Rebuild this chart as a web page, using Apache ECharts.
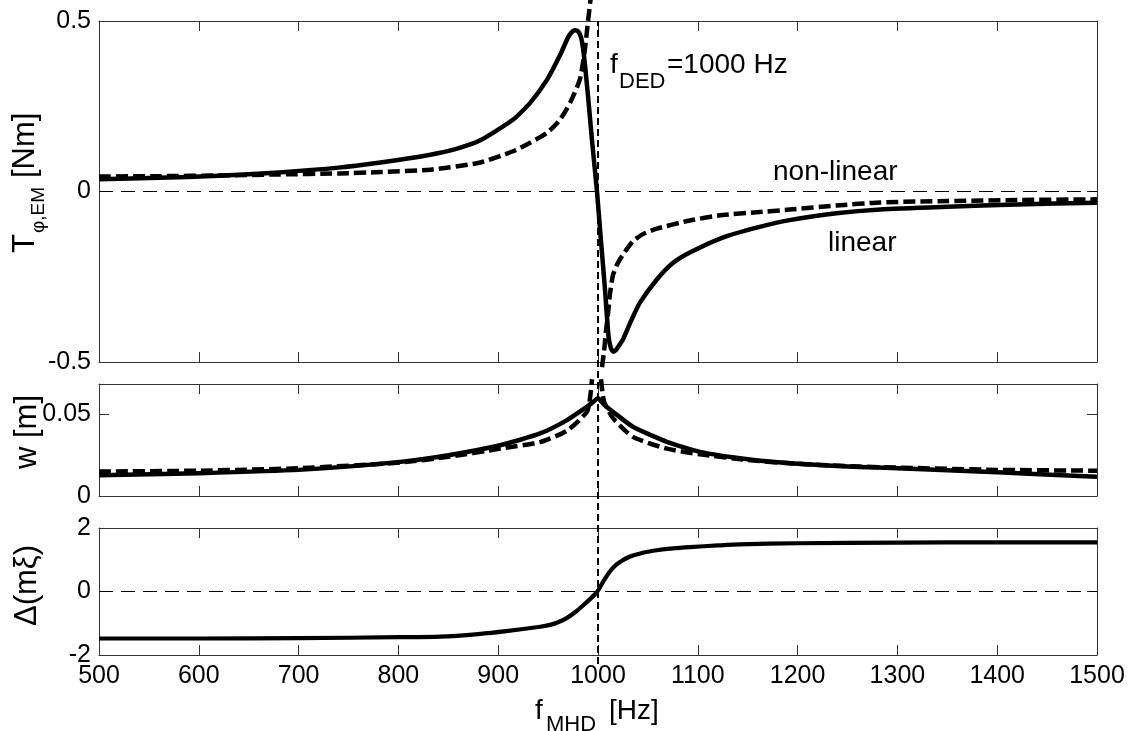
<!DOCTYPE html>
<html>
<head>
<meta charset="utf-8">
<script src="https://cdn.jsdelivr.net/npm/echarts@6/dist/echarts.min.js"></script>
<style>
html,body{margin:0;padding:0;background:#fff;}
#chart{width:1136px;height:731px;}
</style>
</head>
<body>
<div id="chart"></div>
<script>
// ---------- data ----------
const X_TICKS = [500, 600, 700, 800, 900, 1000, 1100, 1200, 1300, 1400, 1500];
const F_DED = 1000;

// Panel 1: torque T_phi,EM [Nm]
const torqueLinF = [500,560,620,680,740,782,832,858,882,915,932,949,962,970,974,977,980,983,985,987,990,994,999,1002,1007,1010.5,1013,1015.5,1018,1021,1025,1033,1042,1059,1075,1092,1125,1159,1192,1239,1283,1350,1420,1500];
const torqueLin  = [0.036,0.040,0.046,0.056,0.070,0.085,0.108,0.125,0.150,0.211,0.26,0.328,0.40,0.452,0.468,0.473,0.470,0.452,0.42,0.37,0.28,0.15,0.0,-0.11,-0.287,-0.424,-0.46,-0.47,-0.465,-0.452,-0.434,-0.38,-0.326,-0.258,-0.21,-0.179,-0.135,-0.106,-0.084,-0.064,-0.053,-0.045,-0.038,-0.033];
const torqueNlF  = [500,560,620,680,740,782,832,882,915,932,949,962,972,982,987,990,992.5,998,1004,1006,1008,1010,1012,1015,1019,1025,1035,1045,1059,1092,1125,1159,1192,1239,1283,1350,1420,1500];
const torqueNl   = [0.044,0.045,0.047,0.050,0.053,0.057,0.064,0.085,0.118,0.143,0.172,0.211,0.26,0.33,0.42,0.50,0.562,null,-0.515,-0.47,-0.41,-0.36,-0.30,-0.245,-0.215,-0.185,-0.146,-0.125,-0.109,-0.085,-0.069,-0.061,-0.053,-0.041,-0.032,-0.028,-0.025,-0.023];

// Panel 2: displacement w [m]
const wLinF = [500,600,700,802,850,902,942,969,989,994,1000,1006,1015,1035,1069,1102,1150,1196,1262,1300,1400,1500];
const wLin  = [0.0127,0.0140,0.0160,0.0209,0.025,0.0311,0.0383,0.0465,0.0547,0.057,0.0598,0.056,0.0516,0.0424,0.0332,0.027,0.0225,0.0199,0.0178,0.017,0.0145,0.0118];
const wNlF  = [500,600,700,802,850,902,942,969,989,992,994,998,1003,1006,1015,1035,1069,1102,1150,1196,1262,1300,1400,1500];
const wNl   = [0.0150,0.0155,0.0170,0.0205,0.024,0.029,0.033,0.040,0.0516,0.060,0.0715,null,0.0715,0.058,0.0477,0.0362,0.029,0.0256,0.022,0.0199,0.018,0.0174,0.016,0.0155];

// Panel 3: phase difference Δ(mξ)
const phaseF = [500,600,700,800,842,880,908,942,952,960,969,978,985,992,999,1004,1009,1014,1019,1024,1030,1035,1046,1059,1075,1092,1120,1142,1200,1300,1400,1500];
const phase  = [-1.48,-1.48,-1.47,-1.44,-1.42,-1.34,-1.25,-1.11,-1.05,-0.97,-0.83,-0.63,-0.44,-0.24,-0.02,0.25,0.5,0.71,0.86,0.97,1.07,1.13,1.23,1.30,1.36,1.40,1.45,1.485,1.52,1.54,1.55,1.55];

// ---------- chart ----------
const FONT = "'Liberation Sans', Arial, Helvetica, sans-serif";
const INK = '#000';
const FRAME = '#333';

function pairs(xs, ys) {
  return xs.map((x, i) => [x, ys[i] === null ? '-' : ys[i]]);
}

const grids = [
  {left: 99, top: 21, width: 998, height: 341},
  {left: 99, top: 384, width: 998, height: 112},
  {left: 99, top: 528, width: 998, height: 127},
  {left: 99, top: 21, width: 998, height: 643}
];
grids.forEach(g => { g.outerBoundsMode = 'none'; g.containLabel = false; });

function xAx(gridIndex, position, labels) {
  return {
    type: 'value', gridIndex, position, min: X_TICKS[0], max: X_TICKS[X_TICKS.length - 1], interval: 100,
    axisLine: {show: true, onZero: false, lineStyle: {color: FRAME, width: 1}},
    axisTick: {show: true, inside: true, length: 10, lineStyle: {color: FRAME, width: 1}},
    axisLabel: {show: labels, color: INK, fontSize: 25, fontFamily: FONT, margin: 9,
      formatter: v => String(v)},
    splitLine: {show: false}
  };
}
function yAx(gridIndex, position, min, max, interval, labels, extra) {
  return Object.assign({
    type: 'value', gridIndex, position, min, max, interval,
    axisLine: {show: true, onZero: false, lineStyle: {color: FRAME, width: 1}},
    axisTick: {show: true, inside: true, length: 10, lineStyle: {color: FRAME, width: 1}},
    axisLabel: {show: labels, color: INK, fontSize: 25, fontFamily: FONT, margin: 8,
      showMaxLabel: extra && extra.hideMax ? false : true, formatter: v => String(v)},
    splitLine: {show: false},
    nameMoveOverlap: false
  }, extra && extra.opts ? extra.opts : {});
}

const xAxes = [
  xAx(0, 'bottom', false), xAx(0, 'top', false),
  xAx(1, 'bottom', false), xAx(1, 'top', false),
  xAx(2, 'bottom', true), xAx(2, 'top', false),
  {type: 'value', gridIndex: 3, min: 500, max: 1500, show: false}
];

const yAxes = [
  yAx(0, 'left', -0.5, 0.5, 0.5, true),
  yAx(0, 'right', -0.5, 0.5, 0.5, false),
  yAx(1, 'left', 0, 0.0686, 0.05, true, {hideMax: true, opts: {
    name: 'w [m]', nameLocation: 'middle', nameRotate: 90, nameGap: 56,
    nameTextStyle: {color: INK, fontFamily: FONT, fontSize: 31, padding: [0, 0, 0, 16]}
  }}),
  yAx(1, 'right', 0, 0.0686, 0.05, false, {hideMax: true}),
  yAx(2, 'left', -2, 2, 2, true, {opts: {
    name: 'Δ(mξ)', nameLocation: 'middle', nameRotate: 90, nameGap: 56,
    nameTextStyle: {color: INK, fontFamily: FONT, fontSize: 31, padding: [0, 0, 0, 12]}
  }}),
  yAx(2, 'right', -2, 2, 2, false),
  {type: 'value', gridIndex: 3, min: 0, max: 1, show: false}
];

const solid = w => ({color: INK, width: w, type: 'solid', cap: 'butt', join: 'round'});
const dashed = w => ({color: INK, width: w, type: [12, 5], cap: 'butt', join: 'round'});
const base = {type: 'line', symbol: 'none', showSymbol: false, animation: false, silent: true, connectNulls: false};

const series = [
  // zero reference lines
  Object.assign({}, base, {xAxisIndex: 0, yAxisIndex: 0, data: [[500, 0], [1500, 0]],
    lineStyle: {color: INK, width: 1, type: [14, 8]}, z: 1}),
  Object.assign({}, base, {xAxisIndex: 4, yAxisIndex: 4, data: [[500, 0], [1500, 0]],
    lineStyle: {color: INK, width: 1, type: [14, 8]}, z: 1}),
  // panel 1
  Object.assign({}, base, {name: 'non-linear T', xAxisIndex: 0, yAxisIndex: 0, clip: false, smooth: 0.2,
    data: pairs(torqueNlF, torqueNl), lineStyle: dashed(4.5), z: 3}),
  Object.assign({}, base, {name: 'linear T', xAxisIndex: 0, yAxisIndex: 0, clip: false, smooth: 0.2,
    data: pairs(torqueLinF, torqueLin), lineStyle: solid(4.5), z: 4}),
  // panel 2
  Object.assign({}, base, {name: 'non-linear w', xAxisIndex: 2, yAxisIndex: 2, clip: false, smooth: 0.2,
    data: pairs(wNlF, wNl), lineStyle: dashed(4.5), z: 3}),
  Object.assign({}, base, {name: 'linear w', xAxisIndex: 2, yAxisIndex: 2, clip: false, smooth: 0.2,
    data: pairs(wLinF, wLin), lineStyle: solid(4.5), z: 4}),
  // panel 3
  Object.assign({}, base, {name: 'phase', xAxisIndex: 4, yAxisIndex: 4, smooth: 0.2,
    data: pairs(phaseF, phase), lineStyle: solid(4.2), z: 4}),
  // vertical f_DED line across all panels
  Object.assign({}, base, {xAxisIndex: 6, yAxisIndex: 6, data: [[F_DED, 0], [F_DED, 1]],
    lineStyle: {color: INK, width: 2, type: [7, 4]}, z: 5})
];

// text pieces placed by baseline (converted to middle alignment)
function txt(text, x, baseline, size) {
  return {type: 'text', x: x, y: baseline - 0.36 * size, silent: true,
    style: {text: text, align: 'left', verticalAlign: 'middle', fill: INK, fontSize: size, fontFamily: FONT}};
}

const graphic = [
  // f_DED = 1000 Hz annotation
  txt('f', 610, 75, 28), txt('DED', 619, 90, 22), txt('=1000 Hz', 667, 75, 28),
  txt('non-linear', 773, 182, 28),
  txt('linear', 828, 253, 28),
  // x-axis title f_MHD [Hz]
  txt('f', 535, 721, 28), txt('MHD', 546, 733, 22), txt('[Hz]', 609, 721, 28),
  // y-axis title of top panel, rotated (reads bottom to top)
  {type: 'group', x: 37, y: 253, rotation: Math.PI / 2, silent: true, children: [
    txt('T', 0, 0, 31), txt('φ,EM', 20, 9, 19), txt('[Nm]', 75, 0, 31)
  ]}
];

const chart = echarts.init(document.getElementById('chart'), null, {renderer: 'canvas'});
chart.setOption({
  backgroundColor: '#fff',
  animation: false,
  textStyle: {fontFamily: FONT, color: INK},
  grid: grids,
  xAxis: xAxes,
  yAxis: yAxes,
  series: series,
  graphic: graphic
});
</script>
</body>
</html>
